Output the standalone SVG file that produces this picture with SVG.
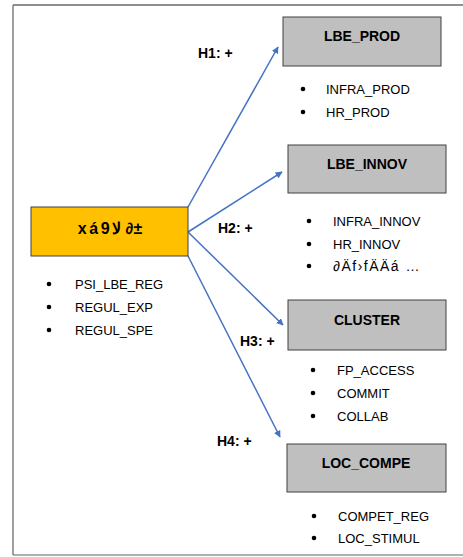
<svg xmlns="http://www.w3.org/2000/svg" width="463" height="557" viewBox="0 0 463 557">
  <style>
    .box { fill: #BFBFBF; stroke: #404040; stroke-width: 1; }
    .hub { fill: #FFC000; stroke: #404040; stroke-width: 1; }
    .title { font-family: "Liberation Sans", Arial, sans-serif; font-weight: bold; font-size: 14px; fill: #000; text-anchor: middle; }
    .item { font-family: "Liberation Sans", Arial, sans-serif; font-size: 13px; fill: #000; }
    .hyp { font-family: "Liberation Sans", Arial, sans-serif; font-weight: bold; font-size: 14px; fill: #000; }
    .link { stroke: #4472C4; stroke-width: 1.5; fill: none; marker-end: url(#arrow); }
  </style>
  <defs>
    <marker id="arrow" viewBox="0 0 10 10" refX="9" refY="5" markerWidth="7" markerHeight="7" markerUnits="userSpaceOnUse" orient="auto">
      <path d="M0,0 L10,5 L0,10 z" fill="#4472C4"/>
    </marker>
  </defs>

  <!-- frame -->
  <rect x="0" y="0" width="463" height="557" fill="#FFFFFF"/>
  <line x1="13" y1="5" x2="463" y2="5" stroke="#202020" stroke-width="1.2"/>
  <line x1="13" y1="5" x2="13" y2="555" stroke="#808080" stroke-width="1.5"/>
  <line x1="13" y1="555" x2="463" y2="555" stroke="#606060" stroke-width="1.2"/>

  <!-- connectors -->
  <g id="connectors">
    <line class="link" x1="188" y1="207" x2="278" y2="47"/>
    <line class="link" x1="188" y1="232" x2="282" y2="172"/>
    <line class="link" x1="188" y1="232" x2="283" y2="325"/>
    <line class="link" x1="188" y1="256" x2="280" y2="437"/>
    <text class="hyp" x="198" y="58">H1: +</text>
    <text class="hyp" x="218" y="233">H2: +</text>
    <text class="hyp" x="240" y="346">H3: +</text>
    <text class="hyp" x="217" y="446">H4: +</text>
  </g>

  <!-- central node -->
  <g id="hub">
    <rect class="hub" x="31" y="207" width="157" height="49"/>
    <text class="title" x="110" y="234" style="font-size:16px; letter-spacing:2.5px">xá9ﻻ ∂±</text>
    <circle cx="49" cy="284" r="2.3"/>
    <text class="item" x="75" y="288.5">PSI_LBE_REG</text>
    <circle cx="49" cy="307" r="2.3"/>
    <text class="item" x="75" y="311.5">REGUL_EXP</text>
    <circle cx="49" cy="330" r="2.3"/>
    <text class="item" x="75" y="334.5">REGUL_SPE</text>
  </g>

  <!-- LBE_PROD -->
  <g id="lbe_prod">
    <rect class="box" x="283" y="17" width="158" height="49"/>
    <text class="title" x="362" y="41">LBE_PROD</text>
    <circle cx="303" cy="89" r="2.3"/>
    <text class="item" x="326" y="93.5">INFRA_PROD</text>
    <circle cx="303" cy="112" r="2.3"/>
    <text class="item" x="326" y="116.5">HR_PROD</text>
  </g>

  <!-- LBE_INNOV -->
  <g id="lbe_innov">
    <rect class="box" x="288" y="145" width="158" height="48"/>
    <text class="title" x="367" y="169">LBE_INNOV</text>
    <circle cx="309" cy="221" r="2.3"/>
    <text class="item" x="333" y="225.5">INFRA_INNOV</text>
    <circle cx="309" cy="244" r="2.3"/>
    <text class="item" x="333" y="248.5">HR_INNOV</text>
    <circle cx="309" cy="266" r="2.3"/>
    <text class="item" x="333" y="270.5" style="font-size:14px; letter-spacing:1.5px">∂Äf›fÄÄá …</text>
  </g>

  <!-- CLUSTER -->
  <g id="cluster">
    <rect class="box" x="288" y="300" width="158" height="50"/>
    <text class="title" x="367" y="325">CLUSTER</text>
    <circle cx="313" cy="370" r="2.3"/>
    <text class="item" x="337" y="374.5">FP_ACCESS</text>
    <circle cx="313" cy="393" r="2.3"/>
    <text class="item" x="337" y="397.5">COMMIT</text>
    <circle cx="313" cy="416" r="2.3"/>
    <text class="item" x="337" y="420.5">COLLAB</text>
  </g>

  <!-- LOC_COMPE -->
  <g id="loc_compe">
    <rect class="box" x="287" y="444" width="159" height="48"/>
    <text class="title" x="366" y="468">LOC_COMPE</text>
    <circle cx="314" cy="516" r="2.3"/>
    <text class="item" x="338" y="520.5">COMPET_REG</text>
    <circle cx="314" cy="538" r="2.3"/>
    <text class="item" x="338" y="542.5">LOC_STIMUL</text>
  </g>
</svg>
